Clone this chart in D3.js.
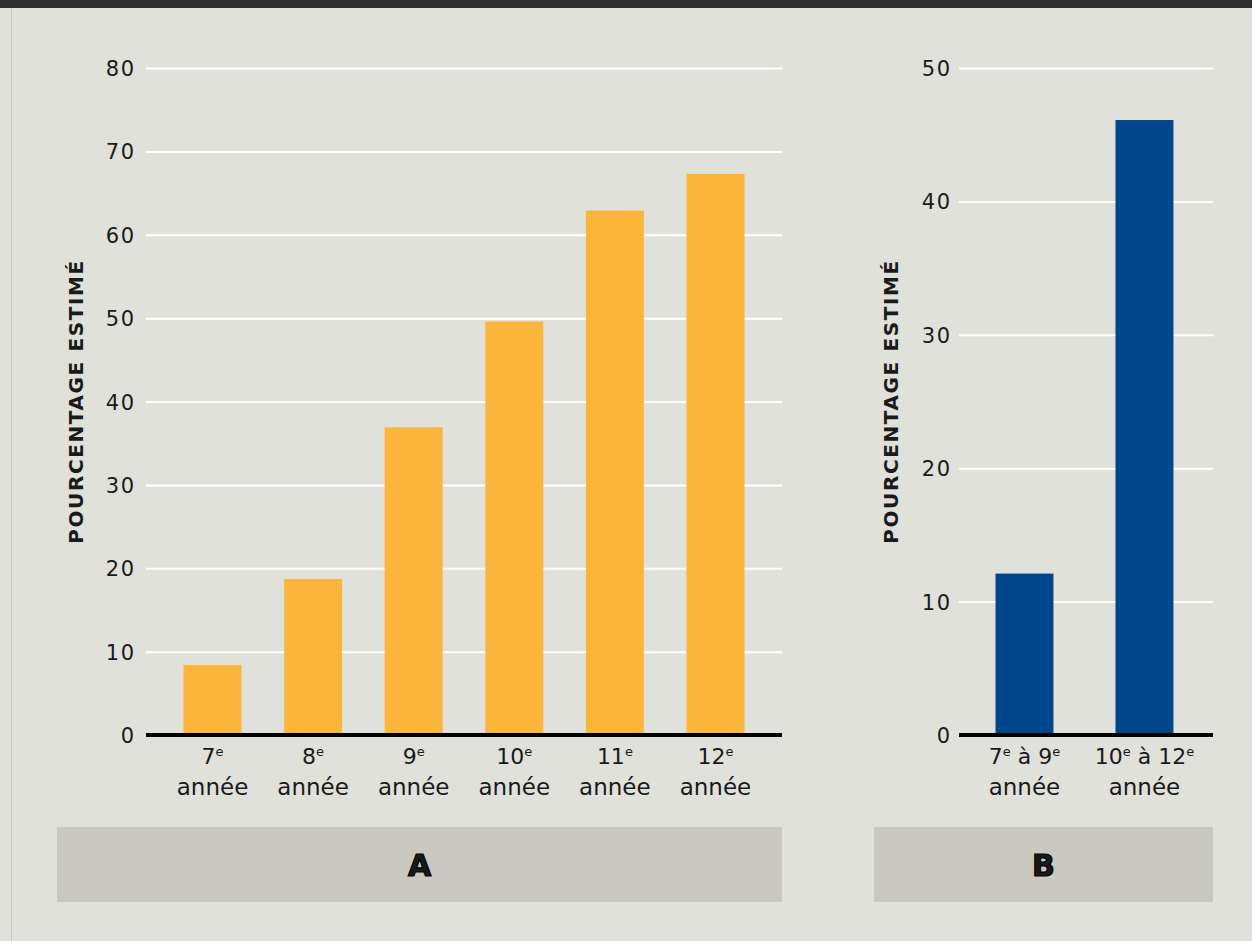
<!DOCTYPE html>
<html>
<head>
<meta charset="utf-8">
<script src="https://cdn.jsdelivr.net/npm/d3@7"></script>
<style>
  body { margin: 0; background: #e1e1dc; }
  svg { display: block; }
  text { font-family: "DejaVu Sans", "Noto Sans", sans-serif; fill: #1a1a1a; }
</style>
</head>
<body>
<script>
// données du panneau A (par année)
var catsA = ["7^e", "8^e", "9^e", "10^e", "11^e", "12^e"];
var valsA = [8.4, 18.7, 36.9, 49.6, 62.9, 67.3];
var ticksA = [0, 10, 20, 30, 40, 50, 60, 70, 80];
// données du panneau B (regroupé)
var catsB = ["7^e^ à 9^e", "10^e^ à 12^e"];
var valsB = [12.1, 46.1];
var ticksB = [0, 10, 20, 30, 40, 50];
var line2 = "année";
var yTitle = "POURCENTAGE ESTIMÉ";
var panelNames = ["A", "B"];

var W = 1252, H = 941;
var y0 = 735, y1 = 68; // bas / haut du tracé

var svg = d3.select("body").append("svg")
  .attr("width", W)
  .attr("height", H);

// fond + bandeau du haut
svg.append("rect").attr("x", 0).attr("y", 0).attr("width", W).attr("height", H).attr("fill", "#e1e1dc");
svg.append("line").attr("x1", 11.5).attr("x2", 11.5).attr("y1", 0).attr("y2", H)
  .attr("stroke", "#c9c9c2").attr("stroke-width", 1);
svg.append("rect").attr("x", 0).attr("y", 0).attr("width", W).attr("height", 8).attr("fill", "#2f2f2f");

// écrit un libellé avec exposants (segments impairs = exposant)
function supText(sel, str) {
  var parts = str.split("^");
  parts.forEach(function(p, i) {
    if (p === "") return;
    var t = sel.append("tspan").text(p);
    if (i % 2 === 1) {
      t.attr("font-size", "13px").attr("dy", "-8");
    } else if (i > 0) {
      t.attr("dy", "8");
    }
  });
}

function panel(opt) {
  var g = svg.append("g");

  var x = d3.scaleBand()
    .domain(opt.cats)
    .range([opt.x0, opt.x1])
    .paddingInner(opt.pin)
    .paddingOuter(opt.pout)
    .align(opt.align);

  var y = d3.scaleLinear()
    .domain([0, d3.max(opt.ticks)])
    .range([y0, y1]);

  // grille + ticks
  var ax = g.append("g")
    .attr("transform", "translate(" + opt.x0 + ",0)")
    .call(d3.axisLeft(y).tickValues(opt.ticks).tickSize(-(opt.x1 - opt.x0)).tickPadding(opt.tpad));
  ax.select(".domain").remove();
  ax.selectAll(".tick line").attr("stroke", "#ffffff").attr("stroke-width", 2);
  ax.selectAll(".tick text")
    .attr("font-size", "21px")
    .attr("fill", "#1a1a1a")
    .attr("dx", "1.5")
    .attr("dy", "0.36em")
    .style("font-family", "'DejaVu Sans', sans-serif")
    .style("letter-spacing", "1.5px");

  // barres
  g.selectAll("rect.bar")
    .data(opt.vals)
    .enter()
    .append("rect")
    .attr("class", "bar")
    .attr("x", function(d, i) { return x(opt.cats[i]); })
    .attr("y", function(d) { return y(d); })
    .attr("width", x.bandwidth())
    .attr("height", function(d) { return y(0) - y(d); })
    .attr("fill", opt.color);

  // ligne de base
  g.append("line")
    .attr("x1", opt.x0).attr("x2", opt.x1)
    .attr("y1", y(0)).attr("y2", y(0))
    .attr("stroke", "#000").attr("stroke-width", 4);

  // libellés des catégories
  opt.cats.forEach(function(c) {
    var cx = x(c) + x.bandwidth() / 2;
    var t1 = g.append("text")
      .attr("x", cx).attr("y", 764)
      .attr("text-anchor", "middle")
      .attr("font-size", "22px");
    supText(t1, c);
    g.append("text")
      .attr("x", cx).attr("y", 795)
      .attr("text-anchor", "middle")
      .attr("font-size", "23px")
      .text(line2);
  });

  // titre de l'axe y
  g.append("text")
    .attr("transform", "translate(" + opt.tx + "," + (y0 + y1) / 2 + ") rotate(-90)")
    .attr("text-anchor", "middle")
    .attr("font-size", "20px")
    .style("font-weight", "bold")
    .style("letter-spacing", "1.6px")
    .text(yTitle);

  // boîte du panneau
  g.append("rect")
    .attr("x", opt.bx).attr("y", 827)
    .attr("width", opt.x1 - opt.bx).attr("height", 75)
    .attr("fill", "#c9c9c1");
  g.append("text")
    .attr("x", (opt.bx + opt.x1) / 2).attr("y", 876)
    .attr("text-anchor", "middle")
    .attr("font-size", "30px")
    .style("font-weight", "bold")
    .attr("fill", "#000")
    .attr("stroke", "#000")
    .attr("stroke-width", 1.2)
    .text(opt.name);
}

panel({ cats: catsA, vals: valsA, ticks: ticksA, color: "#fbb53b",
        x0: 146, x1: 782, pin: 0.4235, pout: 0.373, align: 0.5, tpad: 12,
        tx: 83, bx: 57, name: panelNames[0] });
panel({ cats: catsB, vals: valsB, ticks: ticksB, color: "#00468b",
        x0: 959, x1: 1213, pin: 0.517, pout: 0.317, align: 0.48, tpad: 9,
        tx: 898, bx: 874, name: panelNames[1] });
</script>
</body>
</html>
